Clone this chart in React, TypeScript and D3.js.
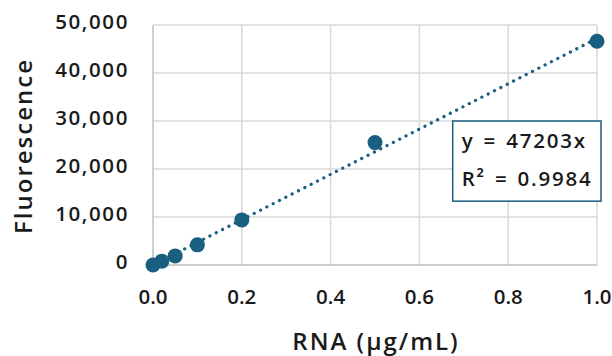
import React from "react";
import * as d3 from "d3";

const rna = [0, 0.02, 0.05, 0.1, 0.2, 0.5, 1.0];
const fluorescence = [0, 800, 1900, 4200, 9400, 25500, 46600];
const slope = 47203;
const xTicks = [0, 0.2, 0.4, 0.6, 0.8, 1.0];
const yTicks = [0, 10000, 20000, 30000, 40000, 50000];
const eqLines = ["y = 47203x", "R² = 0.9984"];

const W = 612;
const H = 356;
const BLUE = "#195f80";
const GRID = "#d9d9d9";
const TEXT = "#1a1a1a";
const FONT = "'Open Sans', Lato, sans-serif";

export default function App() {
  const x = d3.scaleLinear().domain([0, 1]).range([153, 597]);
  const y = d3.scaleLinear().domain([0, 50000]).range([265, 25]);
  const line = d3
    .line<number>()
    .x((d) => x(d))
    .y((d) => y(slope * d));
  const fmt = d3.format(",");
  const bx = x(0.675);
  const by = y(30000);
  const bw = x(1.0) - bx + 4;
  const bh = y(13300) - by;
  return (
    <svg
      width={W}
      height={H}
      style={{ position: "absolute", left: 0, top: 0, background: "#fff" }}
      fontFamily={FONT}
    >
      <rect width={W} height={H} fill="#fff" />
      {xTicks.map((t) => (
        <line key={"gx" + t} x1={x(t)} x2={x(t)} y1={y(50000)} y2={y(0)} stroke={GRID} strokeWidth={1.5} />
      ))}
      {yTicks.map((t) => (
        <line key={"gy" + t} x1={x(0)} x2={x(1)} y1={y(t)} y2={y(t)} stroke={GRID} strokeWidth={1.5} />
      ))}
      <line x1={x(0)} x2={x(0)} y1={y(50000)} y2={y(0)} stroke="#c8c8c8" strokeWidth={1.5} />
      <line x1={x(0)} x2={x(1)} y1={y(0)} y2={y(0)} stroke="#c8c8c8" strokeWidth={1.5} />
      {yTicks.map((t) => (
        <text
          key={"ty" + t}
          x={129}
          y={y(t) + 4}
          textAnchor="end"
          fontSize={20.5}
          fontWeight={600}
          letterSpacing={1.6}
          fill={TEXT}
        >
          {fmt(t)}
        </text>
      ))}
      {xTicks.map((t) => (
        <text
          key={"tx" + t}
          x={x(t)}
          y={304}
          textAnchor="middle"
          fontSize={20.5}
          fontWeight={600}
          fill={TEXT}
        >
          {t.toFixed(1)}
        </text>
      ))}
      <path
        d={line([0, 1]) || ""}
        fill="none"
        stroke={BLUE}
        strokeWidth={3.2}
        strokeLinecap="round"
        strokeDasharray="0.1 7"
      />
      {rna.map((r, i) => (
        <circle key={"p" + i} cx={x(r)} cy={y(fluorescence[i])} r={7.5} fill={BLUE} />
      ))}
      <rect x={bx} y={by} width={bw} height={bh} fill="#fff" stroke={BLUE} strokeWidth={1.5} />
      {eqLines.map((s, i) => (
        <text
          key={"eq" + i}
          x={bx + 9}
          y={by + 27 + i * 38}
          fontSize={20.5}
          fontWeight={600}
          letterSpacing={1.8}
          wordSpacing={2}
          fill={TEXT}
        >
          {s}
        </text>
      ))}
      <text
        transform={`translate(32,${(y(0) + y(50000)) / 2 + 1}) rotate(-90)`}
        textAnchor="middle"
        fontSize={24}
        fontWeight={600}
        letterSpacing={2}
        fill={TEXT}
      >
        Fluorescence
      </text>
      <text
        x={(x(0) + x(1)) / 2 + 1}
        y={350}
        textAnchor="middle"
        fontSize={24}
        fontWeight={600}
        letterSpacing={2}
        fill={TEXT}
      >
        RNA (μg/mL)
      </text>
    </svg>
  );
}
